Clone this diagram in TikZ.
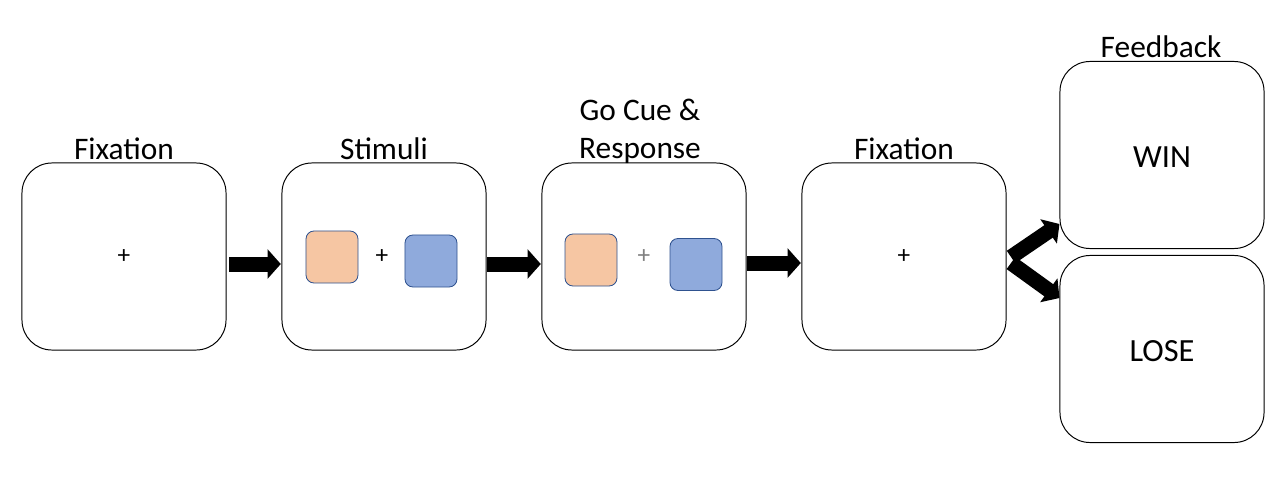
\documentclass[tikz,border=0pt]{standalone}
\usepackage{fontspec}
\setmainfont{Carlito}
\usetikzlibrary{arrows.meta}

\definecolor{peach}{RGB}{246,198,163}
\definecolor{cornblue}{RGB}{143,170,220}
\definecolor{edgeblue}{RGB}{47,82,143}
\definecolor{crossgray}{RGB}{128,128,128}

\tikzset{
  screen/.style={draw=black, line width=0.7pt, rounded corners=0.75cm,
    minimum width=5.1cm, minimum height=4.675cm, inner sep=0pt},
  title/.style={anchor=base, inner sep=0pt, font=\fontsize{22.3}{27}\selectfont},
  outcome/.style={font=\fontsize{23}{28}\selectfont},
  cross/.style={inner sep=0pt, font=\fontsize{18}{22}\selectfont},
  tile/.style={draw=edgeblue, line width=0.6pt, rounded corners=0.2cm,
    minimum width=1.3cm, minimum height=1.3cm, inner sep=0pt},
  blockarrow/.style={line width=0.375cm, -{Triangle[length=0.33cm, width=0.72cm]}}
}

\begin{document}
\begin{tikzpicture}[x=0.025cm, y=-0.025cm]
\useasboundingbox (0,0) rectangle (1280,480);

% screens
\node [screen] (fix1) at (124,256.5) {};
\node [screen] (stim) at (384,256.5) {};
\node [screen] (go)   at (644,256.5) {};
\node [screen] (fix2) at (904,256.5) {};
\node [screen] (win)  at (1162,155) {};
\node [screen] (lose) at (1162,349) {};

% titles
\node [title] (t1) at (124,159) {Fixation};
\node [title] (t2) at (384,159) {Stimuli};
\node [title] (t3a) at (640,120) {Go Cue \&};
\node [title] (t3b) at (640,158) {Response};
\node [title] (t4) at (904,159) {Fixation};
\node [title] (t5) at (1161,57) {Feedback};

% contents
\node [cross] (c1) at (124,257) {+};
\node [tile, fill=peach] (s1) at (332,257) {};
\node [cross] (c2) at (382,257) {+};
\node [tile, fill=cornblue] (s2) at (431,261) {};
\node [tile, fill=peach] (g1) at (591,260) {};
\node [cross, text=crossgray] (c3) at (644,257) {+};
\node [tile, fill=cornblue] (g2) at (696,264.5) {};
\node [cross] (c4) at (904,257) {+};
\node [outcome] (w) at (1162,157) {WIN};
\node [outcome] (l) at (1162,351) {LOSE};

% arrows
\draw [blockarrow] ([xshift=2]fix1.east |- 0,264) -- ([xshift=-0.5]stim.west |- 0,264);
\draw [blockarrow] ([xshift=0.5]stim.east |- 0,264) -- ([xshift=-0.5]go.west |- 0,264);
\draw [blockarrow] ([xshift=0.5]go.east |- 0,263) -- ([xshift=-0.5]fix2.west |- 0,263);
\coordinate (forkup) at (1011,257);
\coordinate (forkdn) at (1011,263);
\draw [blockarrow] (forkup) -- (win.south west |- 0,224);
\draw [blockarrow] (forkdn) -- (lose.north west |- 0,298);
\end{tikzpicture}
\end{document}
